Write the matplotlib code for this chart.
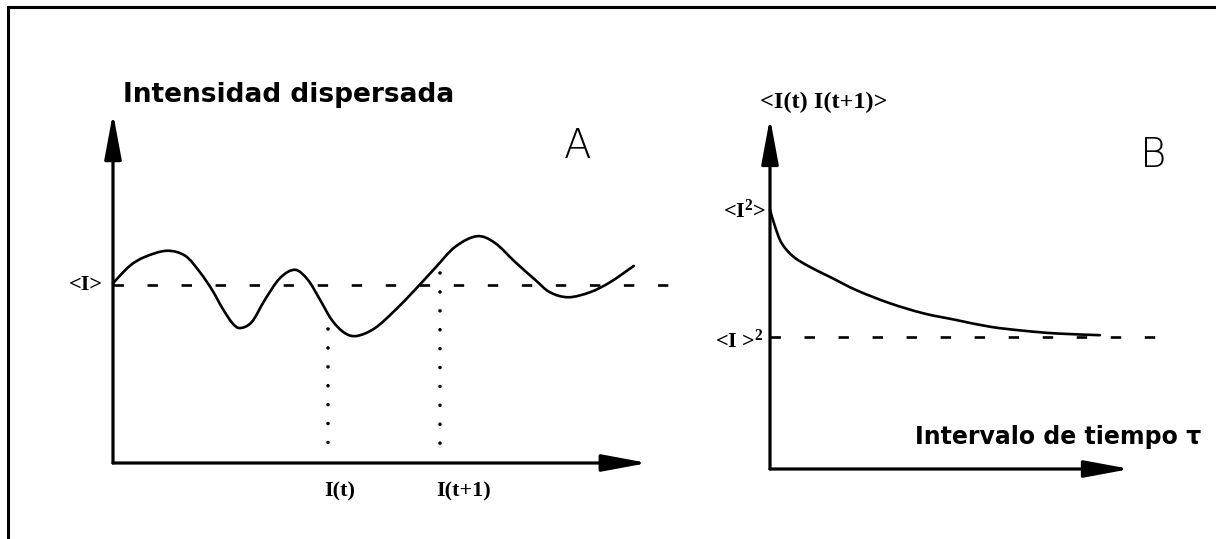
import matplotlib
matplotlib.use("Agg")
import matplotlib.pyplot as plt
from matplotlib.lines import Line2D
from matplotlib.path import Path
from matplotlib.patches import PathPatch
import numpy as np

plt.rcParams['lines.scale_dashes'] = False
plt.rcParams['mathtext.fontset'] = 'custom'
plt.rcParams['mathtext.rm'] = 'Liberation Serif:bold'
plt.rcParams['mathtext.default'] = 'rm'

# ---- Panel A data: scattered intensity vs time ----
time_a = [0.0, 3.0, 5.7, 9.6, 12.9, 15.5, 17.7, 19.5, 21.3, 22.7, 24.8, 27.1,
          29.8, 32.5, 34.8, 37.0, 39.1, 41.4, 43.6, 46.8, 50.4, 53.9, 57.5,
          61.1, 65.0, 68.2, 71.8, 75.4, 78.0, 81.3, 85.2, 88.8, 93.0]
intensity_a = [32.1, 35.2, 36.8, 37.9, 37.0, 34.1, 30.9, 27.7, 25.0, 24.1, 25.2,
               29.1, 33.0, 34.5, 32.7, 29.1, 25.5, 23.2, 22.7, 24.1, 27.3, 30.9,
               34.8, 38.6, 40.5, 39.3, 35.9, 32.7, 30.5, 29.6, 30.5, 32.3, 35.2]
mean_intensity = 31.8
mean_line_end = 100.0
sample_times = [38.4, 58.4]
sample_values = [24.0, 34.0]
sample_labels = ["I(t)", "I(t+1)"]
a_xmax_arrow = 95.5
a_ymax_arrow = 62.5

# ---- Panel B data: autocorrelation vs lag ----
lag_b = [0.0, 0.9, 2.1, 4.2, 7.1, 10.7, 15.5, 21.4, 27.4, 33.3, 39.3, 45.2, 51.2, 58.9]
corr_b = [46.3, 43.3, 40.3, 37.9, 36.1, 34.3, 31.9, 29.6, 27.8, 26.6, 25.4, 24.7, 24.2, 23.9]
baseline_b = 23.6
baseline_end = 68.75
b_xmax_arrow = 64.3
b_ymax_arrow = 62.7

W, H = 1216, 539
fig = plt.figure(figsize=(W / 100, H / 100), dpi=100)
fig.patch.set_facecolor('white')

PX = 5.6  # pixels per data unit

def make_axes(x0, y0, w, h):
    ax = fig.add_axes([x0 / W, (H - y0) / H, w / W, h / H])
    ax.set_xlim(0, w / PX)
    ax.set_ylim(0, h / PX)
    ax.axis('off')
    return ax

axA = make_axes(113, 463, 580, 370)
axB = make_axes(770, 469, 420, 370)

AXLW = 2.3
CURVELW = 1.9
DASHES = (7.5, 17)

def axis_arrows(ax, xmax, ymax):
    for end in [(xmax, 0), (0, ymax)]:
        ax.annotate('', xy=end, xytext=(0, 0), xycoords='data',
                    arrowprops=dict(arrowstyle='-|>,head_length=1.4,head_width=0.26',
                                    mutation_scale=20, lw=AXLW, color='black',
                                    shrinkA=0, shrinkB=0),
                    annotation_clip=False)

def smooth_curve(ax, xs, ys, lw):
    """Draw a smooth Bezier curve through the read points."""
    pts = np.column_stack([xs, ys]).astype(float)
    n = len(pts)
    verts = [pts[0]]
    codes = [Path.MOVETO]
    for i in range(n - 1):
        p0 = pts[i - 1] if i > 0 else pts[i]
        p1 = pts[i]
        p2 = pts[i + 1]
        p3 = pts[i + 2] if i + 2 < n else pts[i + 1]
        c1 = p1 + (p2 - p0) / 6.0
        c2 = p2 - (p3 - p1) / 6.0
        verts += [c1, c2, p2]
        codes += [Path.CURVE4] * 3
    patch = PathPatch(Path(verts, codes), facecolor='none', edgecolor='black',
                      lw=lw, capstyle='round', joinstyle='round', clip_on=False)
    ax.add_patch(patch)

# Panel A
axis_arrows(axA, a_xmax_arrow, a_ymax_arrow)
smooth_curve(axA, time_a, intensity_a, CURVELW)
axA.plot([0, mean_line_end], [mean_intensity, mean_intensity], color='black', lw=1.9,
         dashes=DASHES, clip_on=False)
for t, v, lab in zip(sample_times, sample_values, sample_labels):
    axA.plot([t, t], [v, 2.3], color='black', lw=2.6, linestyle=(0, (0.01, 13.6)),
             dash_capstyle='round', clip_on=False)
    axA.text(t - 0.6, -5.0, lab, ha='left', va='center', fontsize=16,
             family='Liberation Serif', fontweight='bold')

axA.text(1.8, 65.7, 'Intensidad dispersada', ha='left', va='center', fontsize=19,
         family='DejaVu Sans', fontweight='bold')
axA.text(83.0, 56.5, 'A', ha='center', va='center', fontsize=29,
         family='DejaVu Sans', fontweight='light')
axA.text(-1.8, mean_intensity, '<I>', ha='right', va='center', fontsize=16,
         family='Liberation Serif', fontweight='bold')

# Panel B
axis_arrows(axB, b_xmax_arrow, b_ymax_arrow)
smooth_curve(axB, lag_b, corr_b, CURVELW)
axB.plot([0, baseline_end], [baseline_b, baseline_b], color='black', lw=1.9,
         dashes=DASHES, clip_on=False)
axB.text(-1.8, 65.4, '<I(t) I(t+1)>', ha='left', va='center', fontsize=17.5,
         family='Liberation Serif', fontweight='bold')
axB.text(68.5, 56.0, 'B', ha='center', va='center', fontsize=29,
         family='DejaVu Sans', fontweight='light')
axB.text(-0.6, 46.0, r'<I$^{2}$>', ha='right', va='center', fontsize=16,
         family='Liberation Serif', fontweight='bold')
axB.text(-1.2, 22.8, r'<I >$^{2}$', ha='right', va='center', fontsize=16,
         family='Liberation Serif', fontweight='bold')
axB.text(25.9, 5.7, 'Intervalo de tiempo τ', ha='left', va='center', fontsize=17,
         family='DejaVu Sans', fontweight='bold')

# Outer frame (top and left edges only visible)
fig.add_artist(Line2D([8 / W, 1.0], [(H - 7) / H, (H - 7) / H], color='black', lw=2.2,
                      transform=fig.transFigure))
fig.add_artist(Line2D([8 / W, 8 / W], [(H - 7) / H, 0.0], color='black', lw=2.2,
                      transform=fig.transFigure))

fig.savefig('out.png', dpi=100, facecolor='white')
